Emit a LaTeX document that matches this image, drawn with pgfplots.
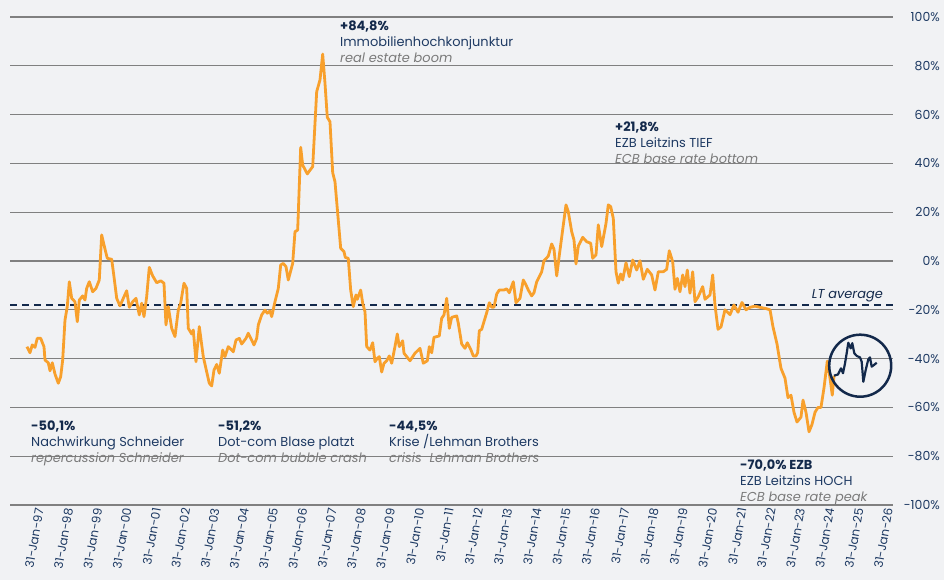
\documentclass[border=0pt]{standalone}
\usepackage{fontspec}
\setmainfont{Poppins}
\usepackage{pgfplots}
\pgfplotsset{compat=1.18}
\definecolor{bg}{HTML}{F1F2F4}
\definecolor{orng}{HTML}{F8A02C}
\definecolor{navy}{HTML}{13294B}
\definecolor{navytext}{HTML}{1E3A63}
\definecolor{gridgray}{HTML}{808080}
\definecolor{engray}{HTML}{7A7A7A}
\begin{document}
\begin{tikzpicture}
\fill[bg] (-10bp,-75bp) rectangle (934bp,505bp);
\begin{axis}[at={(0,0)}, anchor=south west, scale only axis,
  width=883bp, height=488bp,
  xmin=1996.42, xmax=2026.577, ymin=-100, ymax=100,
  axis line style={draw=none}, major tick length=0pt,
  ytick={-100,-80,-60,-40,-20,0,20,40,60,80,100},
  yticklabels={-100\%,-80\%,-60\%,-40\%,-20\%,0\%,20\%,40\%,60\%,80\%,100\%},
  yticklabel pos=right,
  yticklabel style={anchor=east, inner sep=0pt, xshift=47bp, font=\fontsize{12.5}{14}\selectfont, text=navytext},
  xtick={1997,1998,1999,2000,2001,2002,2003,2004,2005,2006,2007,2008,2009,2010,2011,2012,2013,2014,2015,2016,2017,2018,2019,2020,2021,2022,2023,2024,2025,2026},
  xticklabels={31-Jan-97,31-Jan-98,31-Jan-99,31-Jan-00,31-Jan-01,31-Jan-02,31-Jan-03,31-Jan-04,31-Jan-05,31-Jan-06,31-Jan-07,31-Jan-08,31-Jan-09,31-Jan-10,31-Jan-11,31-Jan-12,31-Jan-13,31-Jan-14,31-Jan-15,31-Jan-16,31-Jan-17,31-Jan-18,31-Jan-19,31-Jan-20,31-Jan-21,31-Jan-22,31-Jan-23,31-Jan-24,31-Jan-25,31-Jan-26},
  xticklabel style={rotate=80, anchor=east, inner sep=0pt, yshift=-13bp, xshift=-1bp, font=\fontsize{12}{14}\selectfont, text=navytext},
  ymajorgrids, grid style={gridgray, line width=1.2bp},
  clip=false,
]
\addplot[navy, line width=1.5bp, dash pattern=on 7bp off 5bp] coordinates {(1996.42,-18) (2026.577,-18)};
\addplot[orng, line width=2.8bp, line join=round] coordinates {
(1997.000,-35.1) (1997.102,-37.6) (1997.181,-34.4) (1997.273,-35.4) (1997.352,-31.7) (1997.468,-31.7)
(1997.581,-35.1) (1997.615,-40.6) (1997.727,-41.7) (1997.786,-45.0) (1997.864,-41.7) (1997.956,-46.3)
(1998.069,-50.1) (1998.151,-47.4) (1998.219,-40.6) (1998.298,-24.2) (1998.376,-18.7) (1998.445,-8.5)
(1998.527,-15.3) (1998.639,-16.7) (1998.718,-24.9) (1998.786,-16.0) (1998.902,-14.3) (1998.981,-16.0)
(1999.039,-11.2) (1999.128,-8.5) (1999.244,-12.6) (1999.357,-11.2) (1999.469,-7.8) (1999.551,10.7)
(1999.630,6.6) (1999.742,1.1) (1999.893,0.7) (1999.971,-6.4) (2000.064,-15.3) (2000.176,-18.4)
(2000.289,-15.3) (2000.405,-12.2) (2000.494,-19.0) (2000.610,-16.7) (2000.723,-15.3) (2000.835,-22.1)
(2000.917,-17.3) (2000.996,-22.8) (2001.088,-14.6) (2001.177,-2.6) (2001.293,-6.1) (2001.430,-8.9)
(2001.566,-8.1) (2001.679,-9.1) (2001.747,-26.2) (2001.826,-18.7) (2001.942,-27.6) (2002.055,-31.0)
(2002.167,-20.1) (2002.249,-17.3) (2002.362,-9.1) (2002.454,-11.2) (2002.509,-27.6) (2002.625,-29.9)
(2002.680,-28.3) (2002.772,-41.3) (2002.885,-26.9) (2003.021,-39.2) (2003.137,-45.4) (2003.226,-50.1)
(2003.308,-51.2) (2003.387,-44.7) (2003.479,-42.4) (2003.568,-46.0) (2003.684,-36.5) (2003.762,-39.2)
(2003.875,-35.1) (2004.046,-37.2) (2004.138,-32.4) (2004.251,-31.7) (2004.333,-34.0) (2004.480,-31.7)
(2004.558,-29.6) (2004.674,-32.4) (2004.753,-34.4) (2004.845,-31.7) (2004.900,-26.2) (2005.016,-22.1)
(2005.128,-20.1) (2005.207,-21.4) (2005.299,-20.5) (2005.357,-22.8) (2005.470,-16.7) (2005.583,-11.2)
(2005.665,-1.6) (2005.753,-1.0) (2005.846,-2.3) (2005.924,-7.8) (2006.074,-1.0) (2006.153,12.0)
(2006.245,12.7) (2006.348,46.6) (2006.416,39.3) (2006.573,35.7) (2006.758,38.7) (2006.894,69.4)
(2007.007,74.2) (2007.099,84.8) (2007.178,72.8) (2007.256,58.9) (2007.348,57.1) (2007.441,36.2)
(2007.519,32.5) (2007.714,5.2) (2007.827,3.8) (2007.871,1.5) (2007.973,1.1) (2008.055,-11.9)
(2008.144,-18.7) (2008.236,-13.9) (2008.281,-15.7) (2008.397,-11.9) (2008.465,-17.3) (2008.544,-20.8)
(2008.602,-35.1) (2008.714,-36.5) (2008.807,-33.5) (2008.885,-41.3) (2008.964,-39.9) (2009.032,-39.2)
(2009.114,-45.5) (2009.193,-41.9) (2009.285,-40.9) (2009.374,-38.9) (2009.456,-41.9) (2009.568,-35.1)
(2009.647,-29.9) (2009.715,-35.1) (2009.831,-32.7) (2009.876,-37.8) (2010.081,-40.9) (2010.251,-37.8)
(2010.422,-35.8) (2010.535,-41.9) (2010.672,-40.9) (2010.740,-35.1) (2010.822,-37.6) (2010.900,-31.3)
(2011.081,-30.7) (2011.163,-23.5) (2011.242,-22.1) (2011.334,-15.3) (2011.423,-27.6) (2011.505,-23.1)
(2011.676,-22.5) (2011.730,-25.5) (2011.846,-34.0) (2011.959,-35.8) (2012.038,-33.5) (2012.154,-36.2)
(2012.243,-38.9) (2012.335,-38.9) (2012.393,-37.6) (2012.448,-28.6) (2012.529,-28.0) (2012.642,-23.5)
(2012.700,-21.2) (2012.789,-17.1) (2012.871,-18.9) (2012.950,-18.9) (2013.042,-13.5) (2013.131,-11.9)
(2013.291,-11.9) (2013.383,-11.4) (2013.472,-13.0) (2013.609,-8.5) (2013.701,-17.1) (2013.837,-15.3)
(2013.950,-7.8) (2014.042,-9.8) (2014.121,-11.9) (2014.237,-14.3) (2014.316,-13.0) (2014.408,-8.5)
(2014.497,-6.4) (2014.579,-4.4) (2014.657,0.1) (2014.804,2.0) (2014.920,7.0) (2014.999,4.8)
(2015.091,-6.1) (2015.204,4.5) (2015.408,23.0) (2015.487,20.2) (2015.603,12.0) (2015.682,8.6)
(2015.750,-1.2) (2015.829,6.1) (2015.979,9.7) (2016.115,7.9) (2016.252,7.3) (2016.320,1.1)
(2016.433,2.5) (2016.512,14.8) (2016.628,5.9) (2016.775,15.4) (2016.853,23.0) (2016.935,22.3)
(2017.024,17.5) (2017.116,-4.4) (2017.195,-9.1) (2017.277,-5.3) (2017.345,-7.8) (2017.458,-0.7)
(2017.571,-6.4) (2017.687,0.4) (2017.823,-3.7) (2017.936,0.1) (2018.049,-7.5) (2018.185,-3.4)
(2018.335,-5.7) (2018.448,-11.9) (2018.561,-4.4) (2018.732,-4.4) (2018.847,-3.4) (2018.936,4.2)
(2019.053,-0.3) (2019.131,-11.6) (2019.210,-7.1) (2019.302,-12.6) (2019.394,-5.7) (2019.473,-10.5)
(2019.551,-3.7) (2019.643,-13.2) (2019.736,-4.4) (2019.814,-16.7) (2019.927,-14.6) (2020.077,-10.5)
(2020.156,-15.7) (2020.327,-13.9) (2020.419,-5.7) (2020.497,-18.0) (2020.600,-28.0) (2020.702,-27.0)
(2020.839,-20.0) (2021.010,-22.0) (2021.146,-18.0) (2021.283,-21.0) (2021.420,-17.0) (2021.556,-20.0)
(2021.693,-19.0) (2021.863,-18.5) (2022.034,-19.0) (2022.239,-19.5) (2022.376,-20.0) (2022.478,-27.0)
(2022.615,-34.0) (2022.751,-44.0) (2022.888,-48.0) (2022.990,-56.0) (2023.093,-55.0) (2023.195,-62.0)
(2023.298,-66.0) (2023.434,-64.0) (2023.503,-57.0) (2023.605,-62.0) (2023.708,-70.0) (2023.810,-67.0)
(2023.913,-62.0) (2024.015,-60.0) (2024.117,-60.0) (2024.220,-52.0) (2024.333,-41.0) (2024.425,-48.0)
(2024.503,-55.0) (2024.562,-47.0)
};
\addplot[navy, line width=2.2bp, line join=round] coordinates {
(2024.562,-47.0) (2024.698,-46.5) (2024.801,-44.0) (2024.869,-46.0) (2024.937,-42.0) (2024.995,-37.8)
(2025.050,-33.5) (2025.132,-35.8) (2025.187,-33.7) (2025.255,-37.8) (2025.337,-38.9) (2025.450,-39.5)
(2025.508,-41.3) (2025.563,-49.5) (2025.644,-44.7) (2025.733,-40.3) (2025.791,-39.5) (2025.849,-43.3)
(2025.928,-42.6) (2026.020,-41.7)
};
\end{axis}
\draw[navy, line width=2.5bp] (850.2bp,139.3bp) circle[radius=31bp];
\tikzset{ann/.style={anchor=north west, inner sep=0pt, align=left, font=\fontsize{13}{16}\selectfont}}
\node[ann] at (330bp,484bp) {{\color{navy}\bfseries +84,8\%}\\{\color{navytext}Immobilienhochkonjunktur}\\{\color{engray}\itshape real estate boom}};
\node[ann] at (605bp,383.5bp) {{\color{navy}\bfseries +21,8\%}\\{\color{navytext}EZB Leitzins TIEF}\\{\color{engray}\itshape ECB base rate bottom}};
\node[ann] at (21bp,84bp) {{\color{navy}\bfseries -50,1\%}\\{\color{navytext}Nachwirkung Schneider}\\{\color{engray}\itshape repercussion Schneider}};
\node[ann] at (208bp,84bp) {{\color{navy}\bfseries -51,2\%}\\{\color{navytext}Dot-com Blase platzt}\\{\color{engray}\itshape Dot-com bubble crash}};
\node[ann] at (379bp,84bp) {{\color{navy}\bfseries -44,5\%}\\{\color{navytext}Krise /Lehman Brothers}\\{\color{engray}\itshape crisis\ \ Lehman Brothers}};
\node[ann] at (730bp,45bp) {{\color{navy}\bfseries -70,0\% EZB}\\{\color{navytext}EZB Leitzins HOCH}\\{\color{engray}\itshape ECB base rate peak}};
\node[anchor=base east, inner sep=0pt, font=\fontsize{13}{15}\selectfont\itshape, text=navy] at (873bp,206bp) {LT average};
\pgfresetboundingbox
\path[use as bounding box] (-10bp,-75bp) rectangle (934bp,505bp);
\end{tikzpicture}
\end{document}
